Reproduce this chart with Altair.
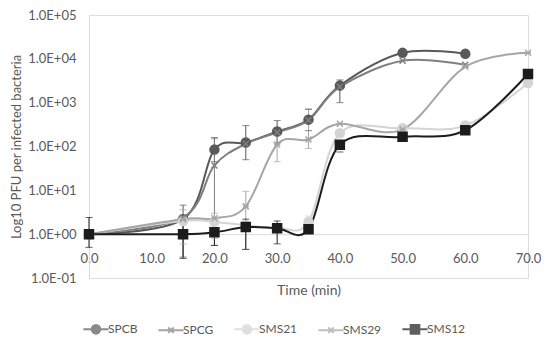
import altair as alt
import pandas as pd

# ---------------- data ----------------
TIMES = [0, 15, 20, 25, 30, 35, 40, 50, 60, 70]
SERIES = ["SPCB", "SPCG", "SMS21", "SMS29", "SMS12"]

SPCB = [1.0, 2.2, 85, 123, 220, 410, 2450, 13700, 13000, None]
SPCG = [1.0, 2.4, 37, 115, 210, 400, 2300, 9000, 7300, None]
SMS21 = [1.0, 2.0, 1.9, 1.6, 1.4, 1.9, 200, 260, 300, 2800]
SMS29 = [1.0, 2.2, 2.3, 4.3, 111, 145, 330, 245, 6600, 13700]
SMS12 = [1.0, 1.0, 1.1, 1.45, 1.37, 1.3, 110, 166, 235, 4500]

# error bars (lower, upper); None = no bar
SPCB_LO = [None, 0.3, 45, 50, 120, 230, 1000, None, None, None]
SPCB_HI = [None, 4.6, 160, 300, 390, 700, 3300, None, None, None]
SPCG_LO = [None, None, 0.56, None, None, None, None, None, None, None]
SPCG_HI = [None, None, 150, None, None, None, None, None, None, None]
SMS21_LO = [None, None, None, None, None, 1.3, None, None, None, None]
SMS21_HI = [None, None, None, None, None, 2.6, None, None, None, None]
SMS29_LO = [None, 0.6, 0.8, 0.45, 45, 90, None, None, None, None]
SMS29_HI = [None, 3.6, 3.0, 9.5, 270, 730, None, None, None, None]
SMS12_LO = [0.5, 0.28, 0.55, 0.45, 0.6, None, 75, None, None, None]
SMS12_HI = [2.4, 2.3, 2.0, 2.2, 2.0, None, None, None, None, None]

VALUES = [SPCB, SPCG, SMS21, SMS29, SMS12]
LOWS = [SPCB_LO, SPCG_LO, SMS21_LO, SMS29_LO, SMS12_LO]
HIGHS = [SPCB_HI, SPCG_HI, SMS21_HI, SMS29_HI, SMS12_HI]

COLORS = ["#595959", "#7f7f7f", "#d4d4d4", "#a6a6a6", "#1c1c1c"]
CIRCLE = "M-0.9,0A0.9,0.9 0 1,0 0.9,0A0.9,0.9 0 1,0 -0.9,0Z"
XMARK = "M-0.6,-0.6L0.6,0.6M-0.6,0.6L0.6,-0.6"
STAR = "M-0.6,-0.6L0.6,0.6M-0.6,0.6L0.6,-0.6M-0.6,0L0.6,0"
SQUARE = "M-0.9,-0.9H0.9V0.9H-0.9Z"
MARKERS = [CIRCLE, XMARK, CIRCLE, STAR, SQUARE]
# legend symbols: short line with the marker on it (symbol box = 12 px)
LEGEND_SYMBOLS = [
    "M-2.1,0H2.1M-0.72,0A0.72,0.72 0 1,0 0.72,0A0.72,0.72 0 1,0 -0.72,0Z",
    "M-2.1,0H2.1M-0.45,-0.45L0.45,0.45M-0.45,0.45L0.45,-0.45",
    "M-2.1,0H2.1M-0.72,0A0.72,0.72 0 1,0 0.72,0A0.72,0.72 0 1,0 -0.72,0Z",
    "M-2.1,0H2.1M-0.45,-0.45L0.45,0.45M-0.45,0.45L0.45,-0.45",
    "M-2.1,0H2.1M-0.72,-0.72H0.72V0.72H-0.72Z",
]
Y_TICKS = [0.1, 1, 10, 100, 1000, 10000, 100000]
X_TICKS = [0, 10, 20, 30, 40, 50, 60, 70]

rows = []
for name, vals, los, his, mk in zip(SERIES, VALUES, LOWS, HIGHS, MARKERS):
    for t, v, lo, hi in zip(TIMES, vals, los, his):
        if v is None:
            continue
        rows.append({"series": name, "time": t, "value": v, "lo": lo, "hi": hi,
                     "marker": mk})
df = pd.DataFrame(rows)

FONT = "Lato"
GRAY = "#595959"
FS = 13
W, H = 439, 263

color_scale = alt.Scale(domain=SERIES, range=COLORS)
legend_shape_scale = alt.Scale(domain=SERIES, range=LEGEND_SYMBOLS)

x_enc = alt.X("time:Q", scale=alt.Scale(domain=[0, 70], nice=False),
              axis=alt.Axis(values=X_TICKS, format=".1f", title="Time (min)",
                            offset=-H / 6, grid=False, ticks=False,
                            labelFlush=False,
                            domainColor="#d9d9d9", labelColor=GRAY,
                            labelFontSize=FS, labelFont=FONT, labelPadding=18,
                            titleFont=FONT, titleFontSize=14, titleColor=GRAY,
                            titleFontWeight="normal", titlePadding=18))

y_axis = alt.Axis(values=Y_TICKS, grid=False, ticks=False,
                  title="Log10 PFU per infected bacteria",
                  labelExpr="'1.0E' + (datum.value < 1 ? '-' : '+') + pad(toString(abs(round(log(datum.value) / LN10))), 2, '0', 'left')",
                  domainColor="#d9d9d9", labelColor=GRAY, labelFontSize=FS,
                  labelFont=FONT, labelPadding=13, labelFlush=False,
                  titleFont=FONT, titleFontSize=FS, titleColor=GRAY,
                  titleFontWeight="normal", titlePadding=4)
y_scale = alt.Scale(type="log", domain=[0.1, 100000], nice=False)

legend = alt.Legend(
    title=None, orient="bottom", direction="horizontal",
    labelFont=FONT, labelFontSize=12, labelColor=GRAY,
    symbolSize=144, symbolStrokeWidth=2, symbolOpacity=1,
    labelOffset=5, columnPadding=16, offset=24,
)

col = alt.Color("series:N", scale=color_scale, sort=SERIES)
strk = alt.Stroke("series:N", scale=color_scale, sort=SERIES)

base = alt.Chart(df)

err_rule = base.mark_rule(strokeWidth=1).encode(
    x="time:Q",
    y=alt.Y("lo:Q", scale=y_scale),
    y2="hi:Q",
    color=col,
).transform_filter("isValid(datum.lo) && isValid(datum.hi)")

err_lo = base.mark_tick(orient="horizontal", size=7, thickness=1).encode(
    x="time:Q",
    y=alt.Y("lo:Q", scale=y_scale),
    color=col,
).transform_filter("isValid(datum.lo)")

err_hi = base.mark_tick(orient="horizontal", size=7, thickness=1).encode(
    x="time:Q",
    y=alt.Y("hi:Q", scale=y_scale),
    color=col,
).transform_filter("isValid(datum.hi)")

lines = base.mark_line(interpolate="cardinal", strokeWidth=2).encode(
    x=x_enc,
    y=alt.Y("value:Q", scale=y_scale, axis=y_axis),
    color=col,
    detail="series:N",
    order="time:Q",
)

marker_layers = []
for mk in [CIRCLE, XMARK, STAR, SQUARE]:
    marker_layers.append(
        base.mark_point(shape=mk, filled=True, size=100, opacity=1,
                        strokeWidth=1.5).encode(
            x="time:Q",
            y=alt.Y("value:Q", scale=y_scale),
            color=col,
            stroke=strk,
        ).transform_filter(alt.datum.marker == mk)
    )

legend_layer = base.mark_point(filled=True, size=144, strokeWidth=2).encode(
    x="time:Q",
    y=alt.Y("value:Q", scale=y_scale),
    color=alt.Color("series:N", scale=color_scale, legend=legend, sort=SERIES),
    stroke=alt.Stroke("series:N", scale=color_scale, legend=legend, sort=SERIES),
    shape=alt.Shape("series:N", scale=legend_shape_scale, legend=legend, sort=SERIES),
).transform_filter("false")

chart = alt.layer(legend_layer, lines, err_rule, err_lo, err_hi, *marker_layers).properties(
    width=W, height=H,
    padding={"left": 2, "top": 1, "right": 0, "bottom": 0},
).configure_view(stroke=None).configure(font=FONT)

chart.save("out.html", embed_options={"renderer": "svg", "actions": False})
